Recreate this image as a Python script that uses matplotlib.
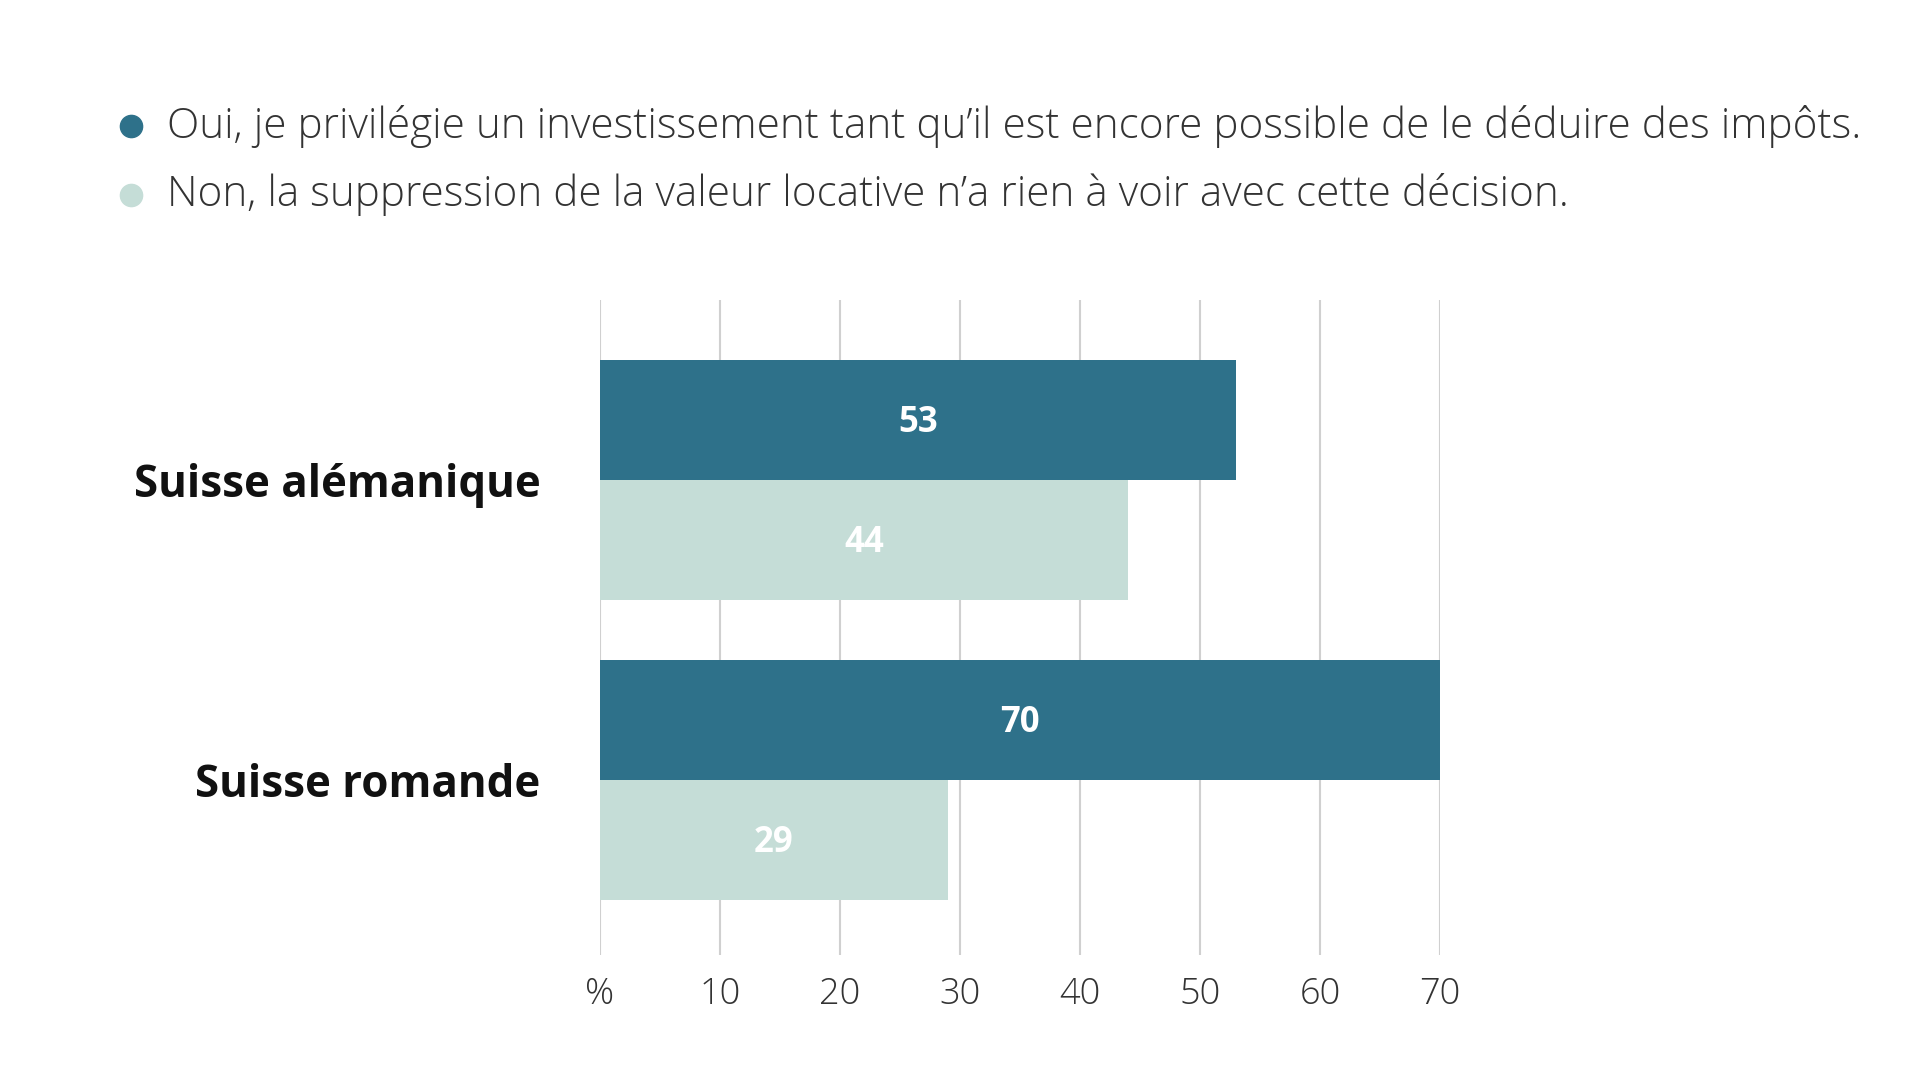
import matplotlib
matplotlib.use('Agg')
import matplotlib.pyplot as plt
import numpy as np
from matplotlib.lines import Line2D

plt.rcParams['font.family'] = ['Open Sans', 'DejaVu Sans']

# data
regions = ['Suisse alémanique', 'Suisse romande']
oui = [53, 70]
non = [44, 29]
series_labels = ['Oui, je privilégie un investissement tant qu\u2019il est encore possible de le déduire des impôts.',
                 'Non, la suppression de la valeur locative n\u2019a rien à voir avec cette décision.']
ticks = [0, 10, 20, 30, 40, 50, 60, 70]
tick_labels = ['%', '10', '20', '30', '40', '50', '60', '70']

dark = '#2E718A'
light = '#C5DDD7'

fig = plt.figure(figsize=(19.2, 10.8), dpi=100)
ax = fig.add_axes([0.3125, 0.1157, 0.4375, 0.6065])

y = np.arange(len(regions))
h = 0.4
b1 = ax.barh(y - h / 2, oui, height=h, color=dark, zorder=2)
b2 = ax.barh(y + h / 2, non, height=h, color=light, zorder=2)

# value labels inside the bars
for bars, vals in [(b1, oui), (b2, non)]:
    for bar, v in zip(bars, vals):
        ax.text(v / 2, bar.get_y() + bar.get_height() / 2 + 0.01, str(v), color='white',
                fontsize=25, fontweight='bold', ha='center', va='center', zorder=3)

ax.set_xlim(0, 70)
ax.set_ylim(1.583, -0.6)
ax.set_xticks(ticks)
ax.set_xticklabels(tick_labels, fontsize=26, color='#333333', fontweight='light')
ax.tick_params(axis='x', length=0, pad=15)
ax.set_yticks(y)
ax.set_yticklabels(regions, fontsize=31.6, fontweight='bold', color='#111111')
ax.tick_params(axis='y', length=0, pad=43)
ax.grid(axis='x', color='#d0d0d0', linewidth=1.5, zorder=0)
for s in ax.spines.values():
    s.set_visible(False)

# legend
for i, (lab, col) in enumerate(zip(series_labels, [dark, light])):
    yy = 1 - (126 + 69 * i) / 1080
    fig.add_artist(Line2D([131 / 1920], [yy], marker='o', markersize=16, color=col,
                          transform=fig.transFigure))
    fig.text(167 / 1920, yy, lab, fontsize=30.4, color='#333333', va='center',
             fontweight='light')

fig.savefig('out.png', dpi=100, facecolor='white')
